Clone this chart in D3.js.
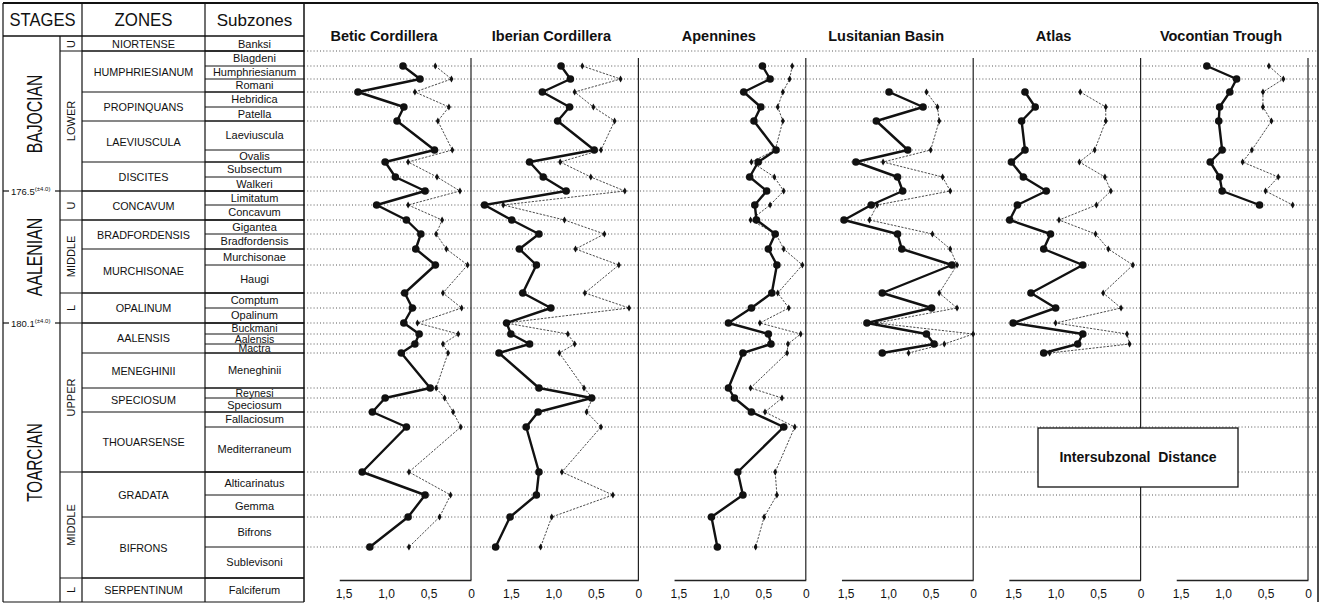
<!DOCTYPE html>
<html><head><meta charset="utf-8">
<script src="https://cdn.jsdelivr.net/npm/d3@7"></script>
<style>
body{margin:0;background:#fff}
svg{display:block}
text{font-family:"Liberation Sans",Arial,Helvetica,sans-serif;fill:#111}
</style>
</head><body>
<svg id="c" width="1323" height="607"></svg>
<script>
// ---------------- DATA ----------------
const subzones = ["Banksi","Blagdeni","Humphriesianum","Romani","Hebridica","Patella","Laeviuscula","Ovalis","Subsectum","Walkeri","Limitatum","Concavum","Gigantea","Bradfordensis","Murchisonae","Haugi","Comptum","Opalinum","Buckmani","Aalensis","Mactra","Meneghinii","Reynesi","Speciosum","Fallaciosum","Mediterraneum","Alticarinatus","Gemma","Bifrons","Sublevisoni","Falciferum"];
const zones = ["NIORTENSE","HUMPHRIESIANUM","PROPINQUANS","LAEVIUSCULA","DISCITES","CONCAVUM","BRADFORDENSIS","MURCHISONAE","OPALINUM","AALENSIS","MENEGHINII","SPECIOSUM","THOUARSENSE","GRADATA","BIFRONS","SERPENTINUM"];
const zoneSubzoneCounts = [1,3,2,2,2,2,2,2,2,3,1,2,2,2,2,1];
const substages = ["U","LOWER","U","MIDDLE","L","UPPER","MIDDLE","L"];
const substageZoneCounts = [1,4,1,2,1,4,2,1];
const stages = ["BAJOCIAN","AALENIAN","TOARCIAN"];
const stageSubstageCounts = [2,3,3];
const stageBoundaryAges = ["176.5","180.1"];
const ageError = "(\u00b14.0)";
const panelNames = ["Betic Cordillera","Iberian Cordillera","Apennines","Lusitanian Basin","Atlas","Vocontian Trough"];
const tickValues = [0,0.5,1.0,1.5];
const legendTitle = "Intersubzonal  Distance";

// Values at subzone boundaries, from Blagdeni/Humphriesianum (first) to Bifrons/Sublevisoni (last) – 28 boundaries
const beticThick  = [0.80,0.60,1.33,0.79,0.87,0.43,1.01,0.89,0.54,1.11,0.76,0.59,0.65,0.42,0.78,0.69,0.79,0.61,0.66,0.82,0.48,1.01,1.16,0.76,1.28,0.54,0.74,1.19];
const beticThin   = [0.42,0.23,0.66,0.26,0.39,0.22,0.74,0.40,0.13,0.74,0.34,0.41,0.29,0.04,0.33,0.11,0.63,0.15,0.33,0.27,0.41,0.31,0.21,0.12,0.73,0.24,0.37,0.73];
const iberianThick= [0.91,0.80,1.13,0.81,0.95,0.52,1.28,1.12,0.85,1.81,1.49,1.17,1.40,1.20,1.36,1.03,1.55,1.50,1.28,1.64,1.17,0.55,1.18,1.32,1.17,1.20,1.51,1.68];
const iberianThin = [0.66,0.21,0.75,0.53,0.28,0.44,0.92,0.56,0.16,1.59,0.87,0.40,0.74,0.23,0.63,0.11,1.56,0.83,0.75,0.93,0.64,0.54,0.61,0.44,0.90,0.30,1.02,1.15];
const apenninesThick=[0.51,0.42,0.73,0.53,0.61,0.35,0.56,0.66,0.46,0.60,0.58,0.36,0.44,0.34,0.40,0.64,0.91,0.44,0.41,0.74,0.91,0.84,0.64,0.26,0.80,0.74,1.11,1.04];
const apenninesThin= [0.16,0.19,0.27,0.33,0.27,0.36,0.64,0.37,0.26,0.42,0.65,0.35,0.26,0.04,0.33,0.20,0.54,0.06,0.21,0.22,0.65,0.28,0.48,0.13,0.36,0.34,0.49,0.59];
const lusitanianThick=[null,null,0.99,0.59,1.14,0.77,1.38,0.89,0.83,1.20,1.52,0.89,0.84,0.25,1.07,0.49,1.25,0.55,0.46,1.07,null,null,null,null,null,null,null,null];
const lusitanianThin =[null,null,0.55,0.42,0.40,0.50,1.06,0.36,0.27,1.13,1.22,0.48,0.27,0.19,0.40,0.19,1.14,0.00,0.34,0.76,null,null,null,null,null,null,null,null];
const atlasThick = [null,null,1.36,1.24,1.40,1.36,1.52,1.38,1.11,1.45,1.54,1.06,1.14,0.68,1.29,1.00,1.50,0.68,0.74,1.14,null,null,null,null,null,null,null,null];
const atlasThin  = [null,null,0.71,0.41,0.41,0.54,0.72,0.42,0.35,0.52,0.96,0.53,0.38,0.09,0.44,0.23,1.00,0.16,0.13,1.07,null,null,null,null,null,null,null,null];
const vocontianThick=[1.19,0.84,0.92,1.04,1.05,1.01,1.15,1.04,1.01,0.57,null,null,null,null,null,null,null,null,null,null,null,null,null,null,null,null,null,null];
const vocontianThin =[0.46,0.29,0.53,0.53,0.43,0.66,0.77,0.35,0.50,0.18,null,null,null,null,null,null,null,null,null,null,null,null,null,null,null,null,null,null];

const thickSeries = [beticThick,iberianThick,apenninesThick,lusitanianThick,atlasThick,vocontianThick];
const thinSeries  = [beticThin,iberianThin,apenninesThin,lusitanianThin,atlasThin,vocontianThin];

// ---------------- LAYOUT ----------------
const rowWeights = [14,15,13,13,15,14,29,12,15,14,14,15,14,15,16,28,15,15,11,10,9,35,10,14,15,45,23,22,30,31,24];
const L = {left:3, top:3, headB:36, rowTop:37, bottom:602, stageR:60, subR:82, zoneR:205, subzR:304, right:1318, axisY:580, zeroTop:58};

const svg = d3.select("#c");
const cum = [0]; rowWeights.forEach(h => cum.push(cum[cum.length-1] + h));
const y = d3.scaleLinear().domain([0, cum[cum.length-1]]).range([L.rowTop, L.bottom]);
const bY = k => y(cum[k]);          // boundary below subzone k (1-based)
const firstBoundary = 2;            // series index 0 -> boundary below subzone 2

// ---------- horizontal dotted guide lines ----------
const gGuides = svg.append("g");
d3.range(1, 30).forEach(k => {
  gGuides.append("line").attr("x1", L.subzR).attr("x2", L.right)
    .attr("y1", bY(k)).attr("y2", bY(k))
    .attr("stroke", "#444").attr("stroke-width", 0.9).attr("stroke-dasharray", "1,2.2");
});

// ---------- table ----------
const gT = svg.append("g").attr("fill","none").attr("stroke","#111").attr("stroke-width",1.2);
gT.append("line").attr("x1",L.left).attr("x2",L.right).attr("y1",L.top).attr("y2",L.top).attr("stroke-width",1.8);
gT.append("line").attr("x1",L.left).attr("x2",L.left).attr("y1",L.top).attr("y2",L.bottom);
gT.append("line").attr("x1",L.left).attr("x2",L.subzR).attr("y1",L.bottom).attr("y2",L.bottom);
gT.append("line").attr("x1",L.right).attr("x2",L.right).attr("y1",L.top).attr("y2",L.bottom).attr("stroke-width",1.5);
gT.append("line").attr("x1",L.subzR).attr("x2",L.subzR).attr("y1",L.top).attr("y2",L.bottom).attr("stroke-width",1.5);
gT.append("line").attr("x1",L.left).attr("x2",L.subzR).attr("y1",L.headB).attr("y2",L.headB).attr("stroke-width",1.6);
[L.subR, L.zoneR].forEach(x => gT.append("line").attr("x1",x).attr("x2",x).attr("y1",L.top).attr("y2",L.bottom));
gT.append("line").attr("x1",L.stageR).attr("x2",L.stageR).attr("y1",L.headB).attr("y2",L.bottom);

// header text
const head = svg.append("g");
head.append("text").attr("x",(L.left+L.subR)/2).attr("y",26).attr("text-anchor","middle").attr("font-size",18)
  .attr("textLength",66).attr("lengthAdjust","spacingAndGlyphs").text("STAGES");
head.append("text").attr("x",(L.subR+L.zoneR)/2).attr("y",26).attr("text-anchor","middle").attr("font-size",18)
  .attr("textLength",58).attr("lengthAdjust","spacingAndGlyphs").text("ZONES");
head.append("text").attr("x",(L.zoneR+L.subzR)/2).attr("y",26).attr("text-anchor","middle").attr("font-size",17).text("Subzones");

// subzones
subzones.forEach((s,i) => {
  const y0 = bY(i), y1 = bY(i+1);
  if (i>0) gT.append("line").attr("x1",L.zoneR).attr("x2",L.subzR).attr("y1",y0).attr("y2",y0).attr("stroke-width",1);
  const fs = (y1-y0) < 12 ? 10.5 : 11;
  svg.append("text").attr("x",(L.zoneR+L.subzR)/2).attr("y",(y0+y1)/2 + fs*0.36)
    .attr("text-anchor","middle").attr("font-size",fs).text(s);
});

// zones
let zi = 0; const zoneStart = [];
zones.forEach((z,i) => {
  zoneStart.push(zi);
  const y0 = bY(zi), y1 = bY(zi + zoneSubzoneCounts[i]);
  if (i>0) gT.append("line").attr("x1",L.subR).attr("x2",L.subzR).attr("y1",y0).attr("y2",y0);
  svg.append("text").attr("x",(L.subR+L.zoneR)/2).attr("y",(y0+y1)/2+4)
    .attr("text-anchor","middle").attr("font-size",10.8).text(z);
  zi += zoneSubzoneCounts[i];
});
zoneStart.push(zi);

// substages
let si = 0; const subStart = [];
substages.forEach((s,i) => {
  subStart.push(si);
  const y0 = bY(zoneStart[si]), y1 = bY(zoneStart[si + substageZoneCounts[i]]);
  if (i>0) gT.append("line").attr("x1",L.stageR).attr("x2",L.subzR).attr("y1",y0).attr("y2",y0);
  const cx = (L.stageR+L.subR)/2, cy = (y0+y1)/2;
  svg.append("text").attr("transform",`translate(${cx+4},${cy}) rotate(-90)`)
    .attr("text-anchor","middle").attr("font-size",11).text(s);
  si += substageZoneCounts[i];
});
subStart.push(si);

// stages
let st = 0;
stages.forEach((s,i) => {
  const y0 = bY(zoneStart[subStart[st]]), y1 = bY(zoneStart[subStart[st + stageSubstageCounts[i]]]);
  const cx = (L.left+L.stageR)/2, cy = (y0+y1)/2;
  const len = s.length * 9.8;
  svg.append("text").attr("transform",`translate(${cx+10},${cy}) rotate(-90)`)
    .attr("text-anchor","middle").attr("font-size",22)
    .attr("textLength",len).attr("lengthAdjust","spacingAndGlyphs").text(s);
  if (i>0) {
    const yb = y0;
    gT.append("line").attr("x1",L.left).attr("x2",L.left+6).attr("y1",yb).attr("y2",yb);
    gT.append("line").attr("x1",L.stageR-5).attr("x2",L.stageR).attr("y1",yb).attr("y2",yb);
    const t = svg.append("text").attr("x",L.left+8).attr("y",yb+4).attr("font-size",9.5);
    t.append("tspan").text(stageBoundaryAges[i-1]);
    t.append("tspan").attr("dy",-4).attr("font-size",6).text(ageError);
  }
  st += stageSubstageCounts[i];
});

// ---------- panels ----------
const px = d3.scalePoint().domain(panelNames).range([471, 1308]);
const diamond = d3.symbol().type(d3.symbolDiamond).size(14);

panelNames.forEach((name, p) => {
  const z = px(name);
  const x = d3.scaleLinear().domain([0, 1.55]).range([z, z - 131.75]);
  const g = svg.append("g");

  g.append("text").attr("x", z - 87).attr("y", 41).attr("text-anchor","middle")
    .attr("font-size",14.5).attr("font-weight","bold").text(name);

  g.append("line").attr("x1",z).attr("x2",z).attr("y1",L.zeroTop).attr("y2",L.axisY)
    .attr("stroke","#222").attr("stroke-width",1.2);

  const axis = d3.axisBottom(x).tickValues(tickValues).tickSize(0).tickPadding(9)
    .tickFormat(d => d === 0 ? "0" : d3.format(".1f")(d).replace(".", ","));
  const ga = g.append("g").attr("transform",`translate(0,${L.axisY})`).call(axis);
  ga.select(".domain").attr("stroke","#222").attr("stroke-width",1.6);
  ga.selectAll("text").attr("font-size",12).attr("font-family",'"Liberation Sans",Arial,sans-serif').attr("fill","#111");

  const toPts = arr => arr.map((v,i) => ({v, y: bY(i + firstBoundary)}));
  const thin = toPts(thinSeries[p]);
  const thick = toPts(thickSeries[p]);
  const line = d3.line().defined(d => d.v != null).x(d => x(d.v)).y(d => d.y);

  g.append("path").attr("d", line(thin)).attr("fill","none").attr("stroke","#333")
    .attr("stroke-width",0.9).attr("stroke-dasharray","2.2,1.4");
  g.selectAll(".thinpt").data(thin.filter(d => d.v != null)).join("path")
    .attr("d", diamond).attr("transform", d => `translate(${x(d.v)},${d.y})`).attr("fill","#111");

  g.append("path").attr("d", line(thick)).attr("fill","none").attr("stroke","#111")
    .attr("stroke-width",2.4).attr("stroke-linejoin","round");
  g.selectAll(".thickpt").data(thick.filter(d => d.v != null)).join("circle")
    .attr("cx", d => x(d.v)).attr("cy", d => d.y).attr("r", 3.8).attr("fill","#111");
});

// ---------- label box ----------
const lb = svg.append("g");
lb.append("rect").attr("x",1038).attr("y",428).attr("width",200).attr("height",59)
  .attr("fill","#fff").attr("stroke","#111").attr("stroke-width",1.3);
lb.append("text").attr("x",1138).attr("y",462).attr("text-anchor","middle")
  .attr("font-size",14).attr("font-weight","bold").attr("xml:space","preserve").text(legendTitle);
</script>
</body></html>
